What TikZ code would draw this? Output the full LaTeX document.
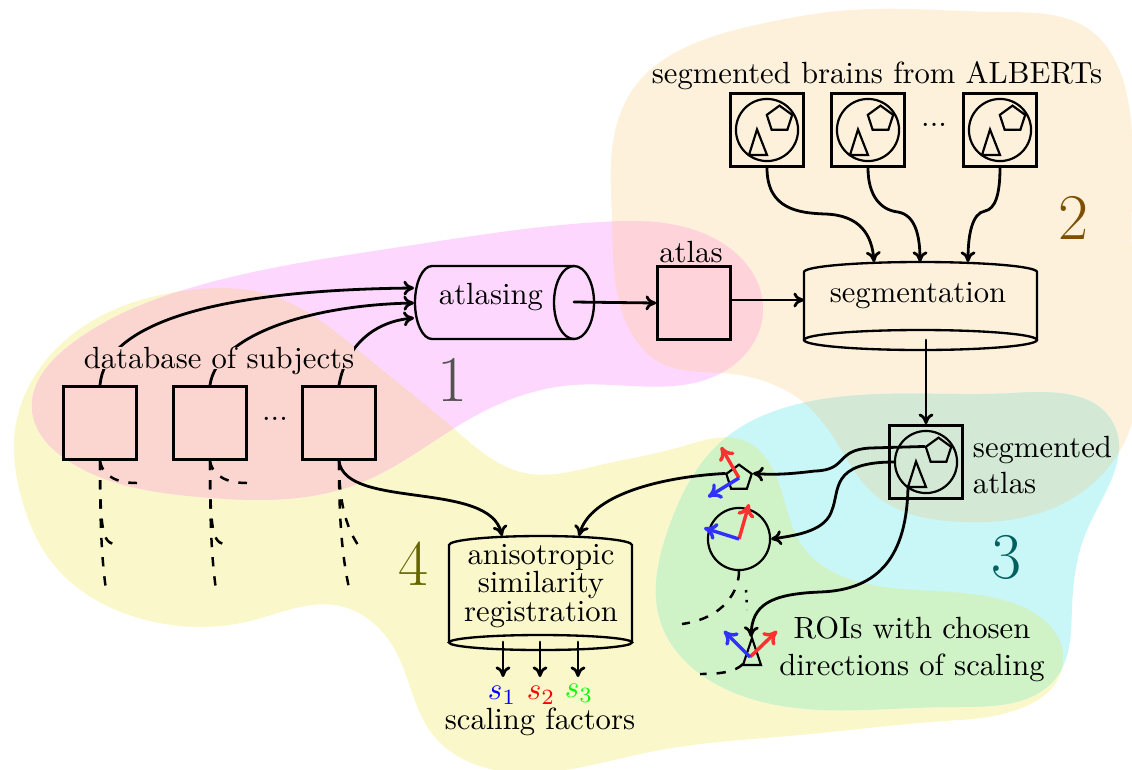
\documentclass[tikz,border=0pt]{standalone}
\usetikzlibrary{shapes.geometric,arrows.meta,hobby}
\definecolor{cYel}{HTML}{FAF8CB}
\definecolor{cPink}{HTML}{FDD7FD}
\definecolor{cOra}{HTML}{FDF1DC}
\definecolor{cCya}{HTML}{C9F6F6}
\definecolor{cRed}{HTML}{FBD6D0}
\definecolor{cGre}{HTML}{CFF3C7}
\definecolor{cGry}{HTML}{D3E9D5}
\definecolor{cAtl}{HTML}{FFD3DA}
\definecolor{cVecR}{HTML}{FF3030}
\definecolor{cVecB}{HTML}{3030FF}
\def\regOne{plot[closed hobby] coordinates {(32,410) (70,345) (190,288) (400,247) (600,222) (700,232) (763,310) (723,372) (573,385) (473,417) (360,483) (200,497) (70,462)}}
\def\regTwo{plot[closed hobby] coordinates {(803,402) (723,373) (663,364) (625,320) (612,220) (618,120) (640,80) (680,50) (760,24) (850,10) (1000,12) (1090,30) (1128,100) (1132,250) (1122,447) (1060,505) (963,522) (873,493) (830,432)}}
\def\regThree{plot[closed hobby] coordinates {(723,440) (807,402) (1013,393) (1113,423) (1087,530) (1072,607) (1058,675) (950,707) (740,695) (660,620) (668,530)}}
\def\regFour{plot[closed hobby] coordinates {(15,430) (60,345) (190,290) (270,295) (370,360) (452,427) (525,473) (600,465) (680,447) (745,441) (782,493) (803,547) (863,583) (1013,603) (1063,657) (960,720) (800,735) (650,752) (490,769) (433,735) (395,650) (340,606) (250,621) (150,621) (50,560) (22,500)}}
\tikzset{
  x=0.322pt,y=-0.322pt,
  every node/.append style={font=\fontsize{9.87}{11.85}\selectfont},
  wire/.style={line width=0.9pt,line cap=round},
  arrowwire/.style={wire,-{Computer Modern Rightarrow[length=3.4pt,width=4.8pt]}},
  dashwire/.style={line width=0.8pt,dash pattern=on 3pt off 3.2pt},
  boxnode/.style={draw,line width=0.8pt,minimum size=23.6pt,inner sep=0pt},
  ringnode/.style={circle,draw,line width=0.7pt,minimum size=20pt,inner sep=0pt},
  pentnode/.style={regular polygon,regular polygon sides=5,draw,line width=0.7pt,minimum size=8.6pt,inner sep=0pt},
  vecred/.style={line width=1.1pt,cVecR,-{Computer Modern Rightarrow[length=4.2pt,width=5.6pt]}},
  vecblue/.style={line width=1.1pt,cVecB,-{Computer Modern Rightarrow[length=4.2pt,width=5.6pt]}},
  drumline/.style={line width=0.75pt},
  bigdigit/.style={font=\fontsize{21}{24}\selectfont},
  brain/.pic={
    \node[boxnode] (-box) at (0,0) {};
    \node[ringnode] (-ring) at (0,0) {};
    \node[pentnode] (-pent) at (12.5,-11) {};
    \draw[line width=0.7pt,line join=miter] (-10,-0.5) -- (-18,25) -- (0,25) -- cycle;
    \coordinate (-tri) at (-18,24);
  }
}
\begin{document}
\begin{tikzpicture}
\useasboundingbox (0,0) rectangle (1132,769);
% regions
\fill[cYel] \regFour;
\fill[cOra] \regTwo;
\fill[cCya] \regThree;
\fill[cPink] \regOne;
\begin{scope}\clip \regFour; \fill[cRed] \regOne; \end{scope}
\begin{scope}\clip \regTwo; \fill[cAtl] \regOne; \end{scope}
\begin{scope}\clip \regTwo; \fill[cGry] \regThree; \end{scope}
\begin{scope}\clip \regFour; \fill[cGre] \regThree; \end{scope}
% digits
\node[bigdigit,text=black!68] (n1) at (452,380) {1};
\node[bigdigit,text={rgb,255:red,127;green,79;blue,0}] (n2) at (1073,218) {2};
\node[bigdigit,text={rgb,255:red,0;green,96;blue,96}] (n3) at (1006,557) {3};
\node[bigdigit,text={rgb,255:red,102;green,102;blue,0}] (n4) at (413,564) {4};
% subjects
\node[boxnode] (s1) at (100,423) {};
\node[boxnode] (s2) at (210,423) {};
\node[boxnode] (s3) at (339,423) {};
\node (sdots) at (275,419) {...};
% atlasing
\draw[drumline] (574,266) -- (432,266) .. controls (422.6,266) and (415,282.5) .. (415,302.5) .. controls (415,322.5) and (422.6,339) .. (432,339) -- (574,339);
\draw[drumline] (574,302.5) ellipse [x radius=20,y radius=36.5];
\node (atl) at (491,297) {atlasing};
\coordinate (in1) at (414,288);
\coordinate (in2) at (414,303);
\coordinate (in3) at (414,318);
\coordinate (atlc) at (574,302);
\draw[arrowwire] (s1.north) .. controls (105,325) and (210,290) .. (in1);
\draw[arrowwire] (s2.north) .. controls (217,335) and (310,305) .. (in2);
\draw[arrowwire] (s3.north) .. controls (345,350) and (370,322) .. (in3);
\node[fill=cRed,inner xsep=0pt,inner ysep=0pt,text depth=0pt] (dbtext) at (219,358) {database of subjects};
% atlas
\node[boxnode] (atb) at (694,303) {};
\node (atbl) at (691,252) {atlas};
\draw[arrowwire] (atlc) -- (atb.west);
% segmentation
\draw[drumline] (804,340) -- (804,272) .. controls (804,266.5) and (856,262) .. (920.5,262) .. controls (985,262) and (1037,266.5) .. (1037,272) -- (1037,340);
\draw[drumline] (920.5,340) ellipse [x radius=116.5,y radius=10];
\node (seg) at (918,296) {segmentation};
\coordinate (segin) at (804,300);
\draw[arrowwire] (atb.east |- segin) -- (segin);
% segmented brains
\node (albl) at (877,76) {segmented brains from ALBERTs};
\pic (b1) at (767,130) {brain};
\pic (b2) at (868,130) {brain};
\pic (b3) at (1000,130) {brain};
\node (bdots) at (934,125) {...};
\coordinate (t1) at (874,262);
\coordinate (t2) at (920,262);
\coordinate (t3) at (968,262);
\draw[arrowwire] (b1-box.south) .. controls (767,210) and (800,213) .. (825,214) .. controls (860,215) and (872,235) .. (t1);
\draw[arrowwire] (b2-box.south) .. controls (868,195) and (880,210) .. (898,212) .. controls (915,215) and (920,235) .. (t2);
\draw[arrowwire] (b3-box.south) .. controls (1000,195) and (995,209) .. (985,211) .. controls (972,213) and (968,235) .. (t3);
% segmented atlas
\pic (sa) at (926,462) {brain};
\node[align=left,anchor=west] (satext) at (962,465) {segmented\\atlas};
\coordinate (segout) at (926,340);
\draw[arrowwire] (segout) -- (sa-box.north);
% ROIs
\node[pentnode] (rp) at (739,478) {};
\node[ringnode] (rc) at (739,539) {};
\draw[line width=0.7pt] (752,638) -- (743,665) -- (761,665) -- cycle;
\coordinate (rtri) at (751,637);
\coordinate (rtb) at (743,664);
\node[align=center] (roitext) at (912,649) {ROIs with chosen\\directions of scaling};
\draw[arrowwire] (sa-pent.corner 2) -- (870,448) .. controls (835,450) and (848,470) .. (815,471) .. controls (790,474) and (775,475) .. (rp.corner 5);
\draw[arrowwire] (sa-ring.west) .. controls (830,462) and (840,490) .. (832,510) .. controls (826,530) and (800,535) .. (rc.east);
\draw[arrowwire] (sa-tri) .. controls (907,555) and (880,590) .. (820,592) .. controls (770,594) and (752,605) .. (rtri);
% vectors
\coordinate (v1r) at (721,447); \coordinate (v1b) at (708,497);
\coordinate (v2r) at (749,504); \coordinate (v2b) at (704,528);
\coordinate (v3r) at (777,631); \coordinate (v3b) at (724,631);
\coordinate (v3o) at (750,657);
\draw[vecred] (rp.center) -- (v1r);
\draw[vecblue] (rp.center) -- (v1b);
\draw[vecred] (rc.center) -- (v2r);
\draw[vecblue] (rc.center) -- (v2b);
\draw[vecred] (v3o) -- (v3r);
\draw[vecblue] (v3o) -- (v3b);
% trees
\coordinate (d1) at (682,624);
\coordinate (d2) at (747,610);
\coordinate (d3) at (700,674);
\draw[dashwire] (rc.south) .. controls (739,590) and (725,618) .. (d1);
\draw[line width=0.8pt,dash pattern=on 0.8pt off 2.4pt] (746,590) -- (d2);
\draw[dashwire] (rtb) .. controls (735,672) and (720,674) .. (d3);
\foreach \n/\bx in {s1/100,s2/210}{
  \coordinate (\n e1) at (\bx+37,483);
  \coordinate (\n e2) at (\bx+18,545);
  \coordinate (\n e3) at (\bx+6,590);
  \draw[dashwire] (\n.south) .. controls (\bx+3,478) and (\bx+20,483) .. (\n e1);
  \draw[dashwire] (\n.south) .. controls (\bx,540) and (\bx+4,543) .. (\n e2);
  \draw[dashwire] (\n.south) .. controls (\bx,530) and (\bx+2,560) .. (\n e3);
}
\coordinate (s3e2) at (358,545);
\coordinate (s3e3) at (349,588);
\draw[dashwire] (s3.south) .. controls (339,500) and (345,525) .. (s3e2);
\draw[dashwire] (s3.south) .. controls (339,520) and (342,555) .. (s3e3);
% registration
\draw[drumline] (449,642.5) -- (449,545) .. controls (449,540) and (490,536) .. (540.5,536) .. controls (591,536) and (632,540) .. (632,545) -- (632,642.5);
\draw[drumline] (540.5,642.5) ellipse [x radius=91.5,y radius=7.5];
\node[align=center,font=\fontsize{9.87}{9.2}\selectfont] (regtext) at (541,586) {anisotropic\\similarity\\registration};
\coordinate (regt1) at (502,536);
\coordinate (regt2) at (579,536);
\draw[arrowwire] (s3.south) .. controls (345,510) and (490,480) .. (regt1);
\draw[arrowwire] (rp.corner 2) .. controls (660,477) and (590,495) .. (regt2);
% outputs
\node (f1) at (502,695) {\textcolor{blue}{$s_1$}};
\node (f2) at (541,695) {\textcolor{red}{$s_2$}};
\node (f3) at (579,693) {\textcolor{green}{$s_3$}};
\coordinate (o1) at (503,642); \coordinate (o2) at (540,642); \coordinate (o3) at (578,642);
\coordinate (p1) at (503,677); \coordinate (p2) at (540,677); \coordinate (p3) at (578,677);
\draw[arrowwire] (o1) -- (p1);
\draw[arrowwire] (o2) -- (p2);
\draw[arrowwire] (o3) -- (p3);
\node (sftext) at (540,722) {scaling factors};
\end{tikzpicture}
\end{document}
